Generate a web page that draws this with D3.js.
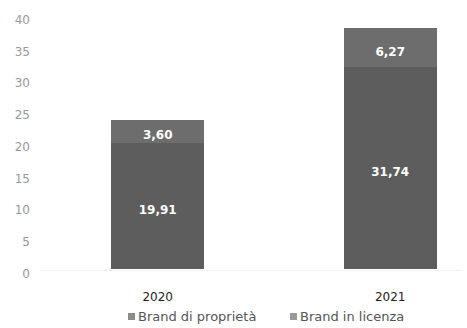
<!DOCTYPE html>
<html>
<head>
<meta charset="utf-8">
<script src="https://cdn.jsdelivr.net/npm/d3@7"></script>
<style>
  body { margin: 0; background: #fff; }
  svg text { font-family: "DejaVu Sans", sans-serif; }
</style>
</head>
<body>
<script>
// data
var years = ["2020", "2021"];
var proprieta = [19.91, 31.74];   // Brand di proprietà (bottom)
var licenza = [3.60, 6.27];       // Brand in licenza (top)
var seriesNames = ["Brand di proprietà", "Brand in licenza"];
var yTicks = [0, 5, 10, 15, 20, 25, 30, 35, 40];

var width = 467, height = 328;
var colors = ["#5d5d5d", "#6d6d6d"];

var svg = d3.select("body").append("svg")
    .attr("width", width)
    .attr("height", height);

var x = d3.scaleBand()
    .domain(years)
    .range([88, 460])
    .paddingInner(0.6)
    .paddingOuter(0.1);

var y = d3.scaleLinear()
    .domain([0, 40])
    .range([269, 15]);

// y axis, labels only
var yAxis = svg.append("g")
    .attr("transform", "translate(30,0)")
    .call(d3.axisLeft(y).tickValues(yTicks).tickSize(0).tickPadding(0));
yAxis.select(".domain").remove();
yAxis.selectAll("text")
    .attr("dy", "0.7em")
    .attr("fill", "#999")
    .style("font-size", "12px");

// faint baseline
svg.append("line")
    .attr("x1", 40).attr("x2", 462)
    .attr("y1", y(0) + 1.5).attr("y2", y(0) + 1.5)
    .attr("stroke", "#f2f2f2");

var rows = years.map(function(d, i) {
    return { year: d, proprieta: proprieta[i], licenza: licenza[i] };
});
var stack = d3.stack().keys(["proprieta", "licenza"])(rows);

var fmt = function(v) { return v.toFixed(2).replace(".", ","); };

stack.forEach(function(layer, li) {
    svg.append("g").selectAll("rect")
        .data(layer)
        .enter().append("rect")
        .attr("x", function(d) { return Math.round(x(d.data.year)); })
        .attr("y", function(d) { return Math.round(y(d[1])); })
        .attr("width", Math.round(x.bandwidth()))
        .attr("height", function(d) { return Math.round(y(d[0])) - Math.round(y(d[1])); })
        .attr("shape-rendering", "crispEdges")
        .attr("fill", colors[li]);

    svg.append("g").selectAll("text")
        .data(layer)
        .enter().append("text")
        .attr("x", function(d) { return x(d.data.year) + x.bandwidth() / 2; })
        .attr("y", function(d) { return (y(d[0]) + y(d[1])) / 2 + 4; })
        .attr("dy", "0.35em")
        .attr("text-anchor", "middle")
        .attr("fill", "#fff")
        .style("font-size", "12px")
        .style("font-weight", "bold")
        .text(function(d) { return fmt(d[1] - d[0]); });
});

// category labels
svg.append("g").selectAll("text")
    .data(years)
    .enter().append("text")
    .attr("x", function(d) { return x(d) + x.bandwidth() / 2; })
    .attr("y", 301)
    .attr("text-anchor", "middle")
    .attr("fill", "#222")
    .style("font-size", "12px")
    .text(function(d) { return d; });

// legend
var legX = [128, 290];
var legend = svg.append("g").selectAll("g")
    .data(seriesNames)
    .enter().append("g")
    .attr("transform", function(d, i) { return "translate(" + legX[i] + ",321)"; });
legend.append("rect")
    .attr("x", 0).attr("y", -8)
    .attr("width", 7).attr("height", 7)
    .attr("fill", function(d, i) { return i === 0 ? "#8c8c8c" : "#9a9a9a"; });
legend.append("text")
    .attr("x", 10)
    .attr("y", 0)
    .attr("fill", "#555")
    .style("font-size", "13px")
    .text(function(d) { return d; });
</script>
</body>
</html>
